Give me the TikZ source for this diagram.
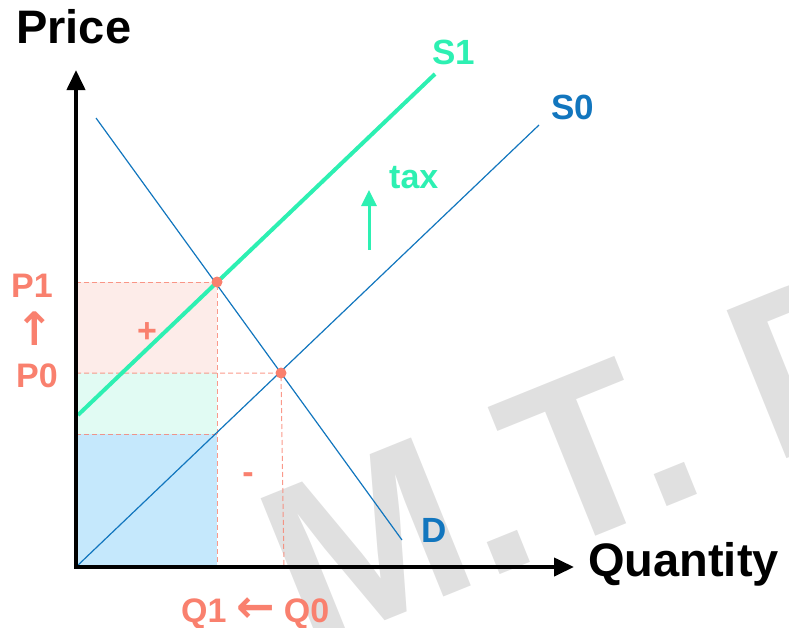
\documentclass[tikz,border=0pt]{standalone}
\usepackage{fontspec}
\setmainfont{Liberation Sans}
\newfontfamily\arrowfont{DejaVu Sans}
\usetikzlibrary{arrows.meta,positioning}

\definecolor{salmon}{RGB}{249,128,110}
\definecolor{taxgreen}{RGB}{45,240,178}
\definecolor{curveblue}{RGB}{18,118,190}
\definecolor{pinkfill}{RGB}{253,236,233}
\definecolor{mintfill}{RGB}{225,251,243}
\definecolor{bluefill}{RGB}{197,232,252}
\definecolor{markgray}{RGB}{224,224,224}

\newcommand{\fsz}[1]{\fontsize{#1}{#1}\selectfont\bfseries}

\begin{document}
\begin{tikzpicture}[
    x=1pt, y=-1pt,
    axis/.style={line width=4pt, -{Triangle[length=20pt,width=18pt]}},
    curve/.style={curveblue, line width=1.2pt},
    guide/.style={salmon, opacity=0.8, line width=1pt, dash pattern=on 5pt off 3pt},
    lbl/.style={inner sep=0pt, anchor=base west},
    axislbl/.style={lbl, font=\fsz{47}},
    pricelbl/.style={lbl, font=\fsz{34}, text=salmon}
]
\clip (0,0) rectangle (789,627);

% =========================================================================
% 1. WATERMARK
% =========================================================================
\node[lbl, font=\fsz{232}, text=markgray, rotate=22] (mark) at (306,653) {M.T. D};

% =========================================================================
% 2. KEY POINTS
% =========================================================================
\coordinate (O) at (76,567);
\coordinate (yend) at (76,70);
\coordinate (xend) at (574,567);
\coordinate (s0b) at (539,125);
\coordinate (s1a) at (78,415);
\coordinate (s1b) at (435,74);
\coordinate (da) at (96,118);
\coordinate (db) at (402,540);
\coordinate (E1) at (217,282);  % new equilibrium
\coordinate (E0) at (281,373);  % old equilibrium
\coordinate (G) at (217,434);   % S0 at Q1
\coordinate (taxa) at (369,250);
\coordinate (taxb) at (369,190);

% =========================================================================
% 3. AREAS AND GUIDES
% =========================================================================
\fill[pinkfill] (O |- E1) rectangle (E1 |- E0);
\fill[mintfill] (O |- E0) rectangle (G);
\fill[bluefill] (O |- G) rectangle (G |- O);

\draw[guide] (O |- E1) -- (E1) -- (E1 |- O);
\draw[guide] (O |- E0) -- (E0) -- ([xshift=3pt]E0 |- O);
\draw[guide] (O |- G) -- (G);

% =========================================================================
% 4. CURVES
% =========================================================================
\draw[curve] (O) -- (s0b);
\draw[curve] (da) -- (db);
\draw[taxgreen, line width=4pt] (s1a) -- (s1b);

% Ejes
\draw[axis] ([yshift=2pt]O) -- (yend);
\draw[axis] ([xshift=-2pt]O) -- (xend);

\fill[salmon] (E1) circle (5.5pt);
\fill[salmon] (E0) circle (5.5pt);

% Desplazamiento por impuesto
\draw[taxgreen, line width=3pt, -{Triangle[length=16pt,width=15pt]}] (taxa) -- (taxb);

% =========================================================================
% 5. LABELS
% =========================================================================
\node[axislbl] (price) at (16,43) {Price};
\node[axislbl] (qty) at (588,576) {Quantity};

\node[lbl, font=\fsz{35}, text=taxgreen] (s1lbl) at (432,64) {S1};
\node[lbl, font=\fsz{35}, text=curveblue] (s0lbl) at (551,119) {S0};
\node[lbl, font=\fsz{35}, text=curveblue] (dlbl) at (421,542) {D};
\node[lbl, font=\fsz{34}, text=taxgreen] (taxlbl) at (389,188) {tax};

\node[pricelbl] (p1) at (11,297) {P1};
\node[pricelbl, anchor=center, font=\fsz{46}] (uparr) at (35,329) {\arrowfont ↑};
\node[pricelbl] (p0) at (16,387) {P0};
\node[pricelbl] (qlbl) at (181,622) {Q1 {\arrowfont\fsz{46}←} Q0};

\node[inner sep=0pt, font=\fsz{34}, text=salmon] (plus) at (147,333) {+};
\node[inner sep=0pt, font=\fsz{34}, text=salmon] (minus) at (248,478) {-};

\end{tikzpicture}
\end{document}
